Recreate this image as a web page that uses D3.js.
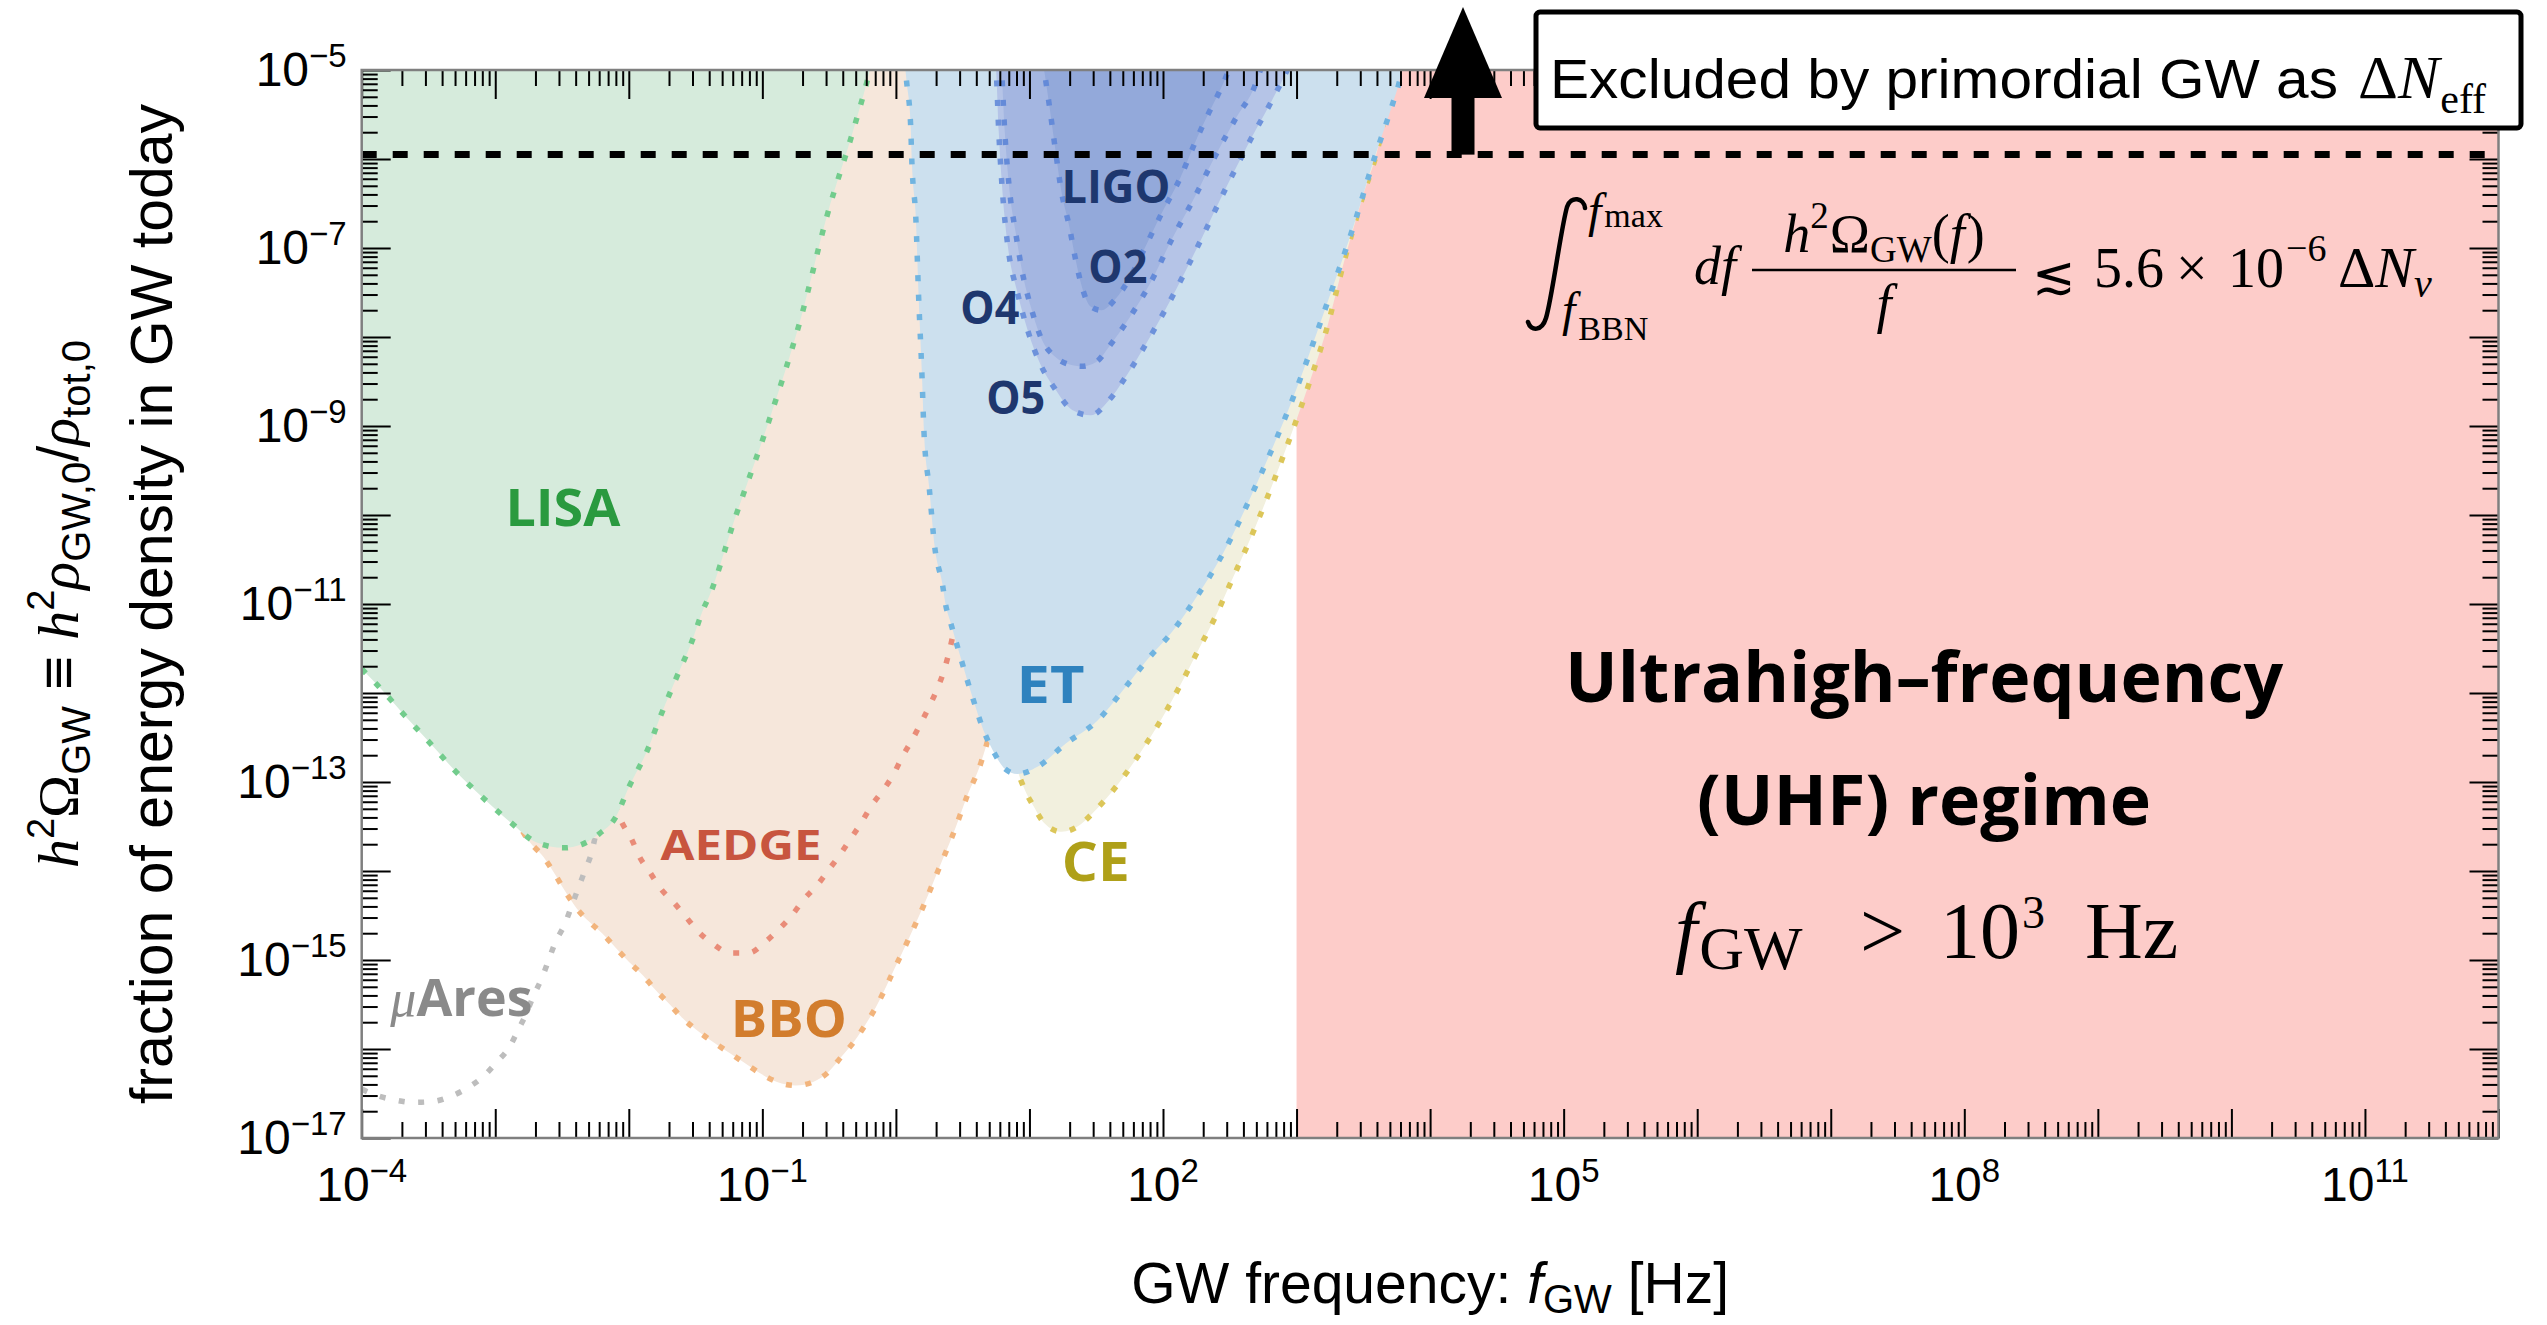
<!DOCTYPE html>
<html>
<head>
<meta charset="utf-8">
<title>GW detectors and the UHF regime</title>
<script src="https://cdn.jsdelivr.net/npm/d3@7/dist/d3.min.js"></script>
<style>
  body { margin: 0; background: #fff; }
  svg { display: block; }
  .sans { font-family: "Liberation Sans", Arial, sans-serif; }
  .serif { font-family: "Liberation Serif", "Times New Roman", serif; }
  .det { font-family: "Open Sans", sans-serif; font-weight: 700; }
</style>
</head>
<body>
<svg id="chart"></svg>
<script>
var width = 2547;
var height = 1325;
var margin = { top: 70, right: 48.5, bottom: 187, left: 361.7 };

// sensitivity curves: log10(f / Hz) and log10(h^2 Omega_GW)
var lisaLogF = [-4.0, -3.87, -3.68, -3.49, -3.31, -3.09, -2.88, -2.69, -2.49, -2.35, -2.22, -2.10, -2.00, -1.86, -1.76, -1.65, -1.53, -1.44, -1.40, -1.21, -0.95, -0.71, -0.52, -0.31, -0.20, -0.18];
var lisaLogOmega = [-11.73, -11.93, -12.25, -12.56, -12.86, -13.18, -13.46, -13.68, -13.74, -13.70, -13.58, -13.40, -13.06, -12.64, -12.25, -11.85, -11.43, -11.05, -10.92, -10.06, -8.94, -7.78, -6.66, -5.63, -5.03, -4.9];

var bboLogF = [-3.6, -3.2, -2.75, -2.64, -2.56, -2.48, -2.39, -2.29, -2.20, -2.10, -2.00, -1.89, -1.81, -1.70, -1.60, -1.49, -1.38, -1.26, -1.14, -1.02, -0.89, -0.75, -0.62, -0.50, -0.41, -0.31, -0.23, -0.15, -0.07, -0.03, 0.09, 0.21, 0.32, 0.43, 0.53, 0.64, 0.70, 0.80, 1.0, 1.3];
var bboLogOmega = [-10.5, -12.0, -13.66, -13.84, -14.02, -14.22, -14.42, -14.58, -14.70, -14.86, -15.02, -15.18, -15.32, -15.49, -15.65, -15.79, -15.91, -16.03, -16.15, -16.27, -16.37, -16.41, -16.37, -16.25, -16.09, -15.91, -15.73, -15.53, -15.29, -15.16, -14.78, -14.38, -13.98, -13.58, -13.17, -12.77, -12.45, -11.5, -9.0, -4.9];

var aedgeLogF = [-2.30, -2.05, -1.98, -1.92, -1.84, -1.76, -1.66, -1.57, -1.48, -1.37, -1.24, -1.10, -0.98, -0.88, -0.78, -0.69, -0.59, -0.50, -0.42, -0.34, -0.26, -0.18, -0.10, -0.02, 0.05, 0.12, 0.19, 0.25, 0.31, 0.36, 0.40, 0.43, 0.50, 0.65];
var aedgeLogOmega = [-12.2, -13.46, -13.64, -13.84, -14.02, -14.20, -14.36, -14.52, -14.68, -14.82, -14.92, -14.92, -14.80, -14.66, -14.50, -14.32, -14.16, -13.98, -13.82, -13.64, -13.46, -13.26, -13.10, -12.92, -12.71, -12.53, -12.33, -12.15, -11.95, -11.75, -11.53, -11.33, -10.8, -9.5];

var muaresLogF = [-4.0, -3.91, -3.76, -3.61, -3.47, -3.33, -3.20, -3.09, -2.99, -2.89, -2.83, -2.77, -2.71, -2.65, -2.60, -2.55, -2.48, -2.43, -2.38, -2.33, -2.28, -2.20, -2.12];
var muaresLogOmega = [-16.45, -16.51, -16.57, -16.60, -16.59, -16.53, -16.43, -16.31, -16.15, -15.97, -15.79, -15.61, -15.39, -15.20, -15.00, -14.80, -14.60, -14.40, -14.20, -14.00, -13.80, -13.2, -12.6];

var etLogF = [0.065, 0.08, 0.11, 0.12, 0.15, 0.17, 0.195, 0.21, 0.25, 0.29, 0.35, 0.37, 0.41, 0.49, 0.57, 0.67, 0.735, 0.815, 0.91, 1.06, 1.27, 1.51, 1.70, 1.88, 2.07, 2.23, 2.45, 2.71, 2.98, 3.22, 3.44, 3.57, 3.73, 3.77, 3.80];
var etLogOmega = [-4.9, -5.13, -5.61, -6.05, -6.69, -7.54, -8.42, -9.06, -9.70, -10.35, -10.79, -10.99, -11.21, -11.63, -12.03, -12.47, -12.67, -12.85, -12.91, -12.83, -12.57, -12.31, -11.97, -11.63, -11.31, -10.97, -10.43, -9.62, -8.66, -7.66, -6.69, -6.05, -5.33, -5.13, -4.9];

var ceLogF = [0.5, 0.7, 0.90, 0.96, 1.03, 1.11, 1.24, 1.38, 1.48, 1.67, 1.83, 1.99, 2.13, 2.26, 2.39, 2.51, 2.63, 2.90, 3.09, 3.22, 3.36, 3.49, 3.62, 3.72];
var ceLogOmega = [-4.9, -10.0, -12.8, -13.07, -13.27, -13.46, -13.56, -13.48, -13.34, -13.01, -12.67, -12.29, -11.91, -11.53, -11.15, -10.75, -10.35, -9.34, -8.54, -7.94, -7.13, -6.45, -5.81, -5.0];

var o5LogF = [0.74, 0.75, 0.77, 0.80, 0.84, 0.91, 0.99, 1.08, 1.19, 1.32, 1.46, 1.59, 1.75, 1.91, 2.10, 2.29, 2.47, 2.66, 2.82, 2.93, 2.96];
var o5LogOmega = [-4.9, -5.0, -5.69, -6.41, -7.0, -7.50, -7.94, -8.30, -8.58, -8.82, -8.88, -8.72, -8.38, -7.98, -7.46, -6.89, -6.33, -5.77, -5.33, -5.0, -4.9];

var o4LogF = [0.78, 0.79, 0.815, 0.855, 0.895, 0.945, 1.01, 1.09, 1.19, 1.30, 1.39, 1.50, 1.60, 1.75, 1.91, 2.07, 2.23, 2.39, 2.55, 2.69, 2.73, 2.76];
var o4LogOmega = [-4.9, -5.0, -5.69, -6.41, -6.81, -7.26, -7.66, -8.02, -8.22, -8.31, -8.33, -8.28, -8.10, -7.78, -7.38, -6.89, -6.45, -5.97, -5.53, -5.17, -5.0, -4.9];

var o2LogF = [1.10, 1.11, 1.15, 1.19, 1.24, 1.30, 1.34, 1.39, 1.46, 1.54, 1.64, 1.75, 1.86, 1.99, 2.13, 2.23, 2.34, 2.42, 2.49, 2.51];
var o2LogOmega = [-4.9, -5.0, -5.41, -5.85, -6.37, -6.77, -7.09, -7.42, -7.66, -7.70, -7.58, -7.34, -7.01, -6.61, -6.21, -5.85, -5.49, -5.25, -5.0, -4.9];

var neffBound = 1.12e-6;   // dashed Delta N_eff line
var uhfStart = 1e3;        // UHF band starts at 10^3 Hz
var xLabelExps = [-4, -1, 2, 5, 8, 11];
var yLabelExps = [-17, -15, -13, -11, -9, -7, -5];

var svg = d3.select("#chart")
    .attr("width", width)
    .attr("height", height);

var x = d3.scaleLog().domain([1e-4, 1e12]).range([margin.left, width - margin.right]);
var y = d3.scaleLog().domain([1e-17, 1e-5]).range([height - margin.bottom, margin.top]);
var x0 = x.range()[0], x1 = x.range()[1], yTop = y.range()[1], yBot = y.range()[0];

svg.append("defs").append("clipPath").attr("id", "clip")
    .append("rect")
    .attr("x", x0).attr("y", yTop)
    .attr("width", x1 - x0).attr("height", yBot - yTop);

var plot = svg.append("g").attr("clip-path", "url(#clip)");

function toPoints(logF, logOmega) {
    return logF.map(function (v, i) {
        return { f: Math.pow(10, v), omega: Math.pow(10, logOmega[i]) };
    });
}

var area = d3.area()
    .curve(d3.curveMonotoneX)
    .x(function (d) { return x(d.f); })
    .y0(yTop - 20)
    .y1(function (d) { return y(d.omega); });

var line = d3.line()
    .curve(d3.curveMonotoneX)
    .x(function (d) { return x(d.f); })
    .y(function (d) { return y(d.omega); });

// UHF band
plot.append("rect")
    .attr("x", x(uhfStart)).attr("y", yTop)
    .attr("width", x1 - x(uhfStart)).attr("height", yBot - yTop)
    .attr("fill", "#fdccc9");

var layers = [
    { pts: toPoints(bboLogF, bboLogOmega), fill: "#f6e7db", stroke: "#f2b47c" },
    { pts: toPoints(muaresLogF, muaresLogOmega), fill: null, stroke: "#bdbdbd" },
    { pts: toPoints(aedgeLogF, aedgeLogOmega), fill: null, stroke: "#e98c78" },
    { pts: toPoints(lisaLogF, lisaLogOmega), fill: "#d6ebdc", stroke: "#72cc8c" },
    { pts: toPoints(ceLogF, ceLogOmega), fill: "#f2f0de", stroke: "#dcc659" },
    { pts: toPoints(etLogF, etLogOmega), fill: "#cce0ee", stroke: "#70b4e0" },
    { pts: toPoints(o5LogF, o5LogOmega), fill: "#b5c4e7", stroke: "#6d92db" },
    { pts: toPoints(o4LogF, o4LogOmega), fill: "#a4b6e1", stroke: "#648ad8" },
    { pts: toPoints(o2LogF, o2LogOmega), fill: "#93a9da", stroke: "#648ad8" }
];

layers.forEach(function (l) {
    if (l.fill) {
        plot.append("path").datum(l.pts).attr("d", area).attr("fill", l.fill);
    }
    plot.append("path").datum(l.pts).attr("d", line)
        .attr("fill", "none")
        .attr("stroke", l.stroke)
        .attr("stroke-width", 5.5)
        .attr("stroke-dasharray", "6,13.5");
});

// Delta N_eff bound
plot.append("line")
    .attr("x1", x0).attr("x2", x1)
    .attr("y1", y(neffBound)).attr("y2", y(neffBound))
    .attr("stroke", "#000")
    .attr("stroke-width", 7)
    .attr("stroke-dasharray", "15,16");

// ---- axes: mirrored inward ticks on all four sides
function decades(a, b) {
    return d3.range(a, b + 1).map(function (e) { return Math.pow(10, e); });
}
function minors(a, b) {
    var out = [];
    d3.range(a, b).forEach(function (e) {
        d3.range(2, 10).forEach(function (k) { out.push(k * Math.pow(10, e)); });
    });
    return out;
}

var axes = svg.append("g");
function addAxis(axisFn, scale, values, size, transform) {
    axes.append("g")
        .attr("transform", transform)
        .call(axisFn(scale).tickValues(values).tickSizeInner(-size).tickSizeOuter(0).tickFormat(""))
        .call(function (g) {
            g.select(".domain").remove();
            g.selectAll("text").remove();
            g.selectAll("line").attr("stroke", "#000").attr("stroke-width", 2);
        });
}

addAxis(d3.axisBottom, x, decades(-4, 12), 29, "translate(0," + yBot + ")");
addAxis(d3.axisBottom, x, minors(-4, 12), 16, "translate(0," + yBot + ")");
addAxis(d3.axisTop, x, decades(-4, 12), 29, "translate(0," + yTop + ")");
addAxis(d3.axisTop, x, minors(-4, 12), 16, "translate(0," + yTop + ")");
addAxis(d3.axisLeft, y, decades(-17, -5), 29, "translate(" + x0 + ",0)");
addAxis(d3.axisLeft, y, minors(-17, -5), 16, "translate(" + x0 + ",0)");
addAxis(d3.axisRight, y, decades(-17, -5), 29, "translate(" + x1 + ",0)");
addAxis(d3.axisRight, y, minors(-17, -5), 16, "translate(" + x1 + ",0)");

axes.append("rect")
    .attr("x", x0).attr("y", yTop)
    .attr("width", x1 - x0).attr("height", yBot - yTop)
    .attr("fill", "none")
    .attr("stroke", "#7f7f7f")
    .attr("stroke-width", 2.5);

function expText(e) { return e < 0 ? "\u2212" + (-e) : String(e); }

xLabelExps.forEach(function (e) {
    var t = axes.append("text").attr("class", "sans")
        .attr("x", x(Math.pow(10, e))).attr("y", yBot + 63)
        .attr("text-anchor", "middle").attr("font-size", 48);
    t.append("tspan").text("10");
    t.append("tspan").attr("dy", -19).attr("font-size", 33).text(expText(e));
});

yLabelExps.forEach(function (e) {
    var t = axes.append("text").attr("class", "sans")
        .attr("x", x0 - 15).attr("y", y(Math.pow(10, e)) + 16)
        .attr("text-anchor", "end").attr("font-size", 48);
    t.append("tspan").text("10");
    t.append("tspan").attr("dy", -19).attr("font-size", 33).text(expText(e));
});

// a run of pieces sharing one baseline, each with its own shift / size / style
function richText(parent, attrs, parts) {
    var t = parent.append("text");
    Object.keys(attrs).forEach(function (k) { t.attr(k, attrs[k]); });
    var prev = 0;
    parts.forEach(function (p) {
        var s = t.append("tspan").text(p.t).attr("dy", (p.shift || 0) - prev);
        prev = p.shift || 0;
        if (p.dx) s.attr("dx", p.dx);
        if (p.size) s.attr("font-size", p.size);
        if (p.italic) s.attr("font-style", "italic");
        if (p.serif) s.attr("font-family", "Liberation Serif, serif");
    });
    return t;
}

// axis titles
richText(svg, { "class": "sans", x: (x0 + x1) / 2, y: 1303, "text-anchor": "middle", "font-size": 57 }, [
    { t: "GW frequency: " },
    { t: "f", italic: true },
    { t: "GW", shift: 10, size: 40 },
    { t: " [Hz]" }
]);

svg.append("text").attr("class", "sans")
    .attr("transform", "translate(172," + (yTop + yBot) / 2 + ") rotate(-90)")
    .attr("text-anchor", "middle").attr("font-size", 59)
    .text("fraction of energy density in GW today");

richText(svg, { "class": "sans", transform: "translate(78," + (yTop + yBot) / 2 + ") rotate(-90)", "text-anchor": "middle", "font-size": 58 }, [
    { t: "h", italic: true, serif: true },
    { t: "2", shift: -24, size: 38 },
    { t: "\u03A9", serif: true },
    { t: "GW", shift: 12, size: 40 },
    { t: " \u2261 " },
    { t: "h", italic: true, serif: true },
    { t: "2", shift: -24, size: 38 },
    { t: "\u03C1", italic: true, serif: true },
    { t: "GW,0", shift: 12, size: 40 },
    { t: "/" },
    { t: "\u03C1", italic: true, serif: true },
    { t: "tot,0", shift: 12, size: 40 }
]);

// detector labels
var labelSpecs = [
    { text: "LISA", f: 3.21e-3, o: 7.5e-11, color: "#2a9a3f", size: 52, len: 115 },
    { text: "AEDGE", f: 0.0693, o: 1.33e-14, color: "#c8553f", size: 42, len: 161 },
    { text: "BBO", f: 0.158, o: 1.36e-16, color: "#d27d2d", size: 52, len: 116 },
    { text: "ET", f: 14.4, o: 7.76e-13, color: "#2e82be", size: 52, len: 68 },
    { text: "CE", f: 31.4, o: 7.76e-15, color: "#afa019", size: 53, len: 68 },
    { text: "LIGO", f: 44.4, o: 3.2e-7, color: "#1e376e", size: 47, len: 109 },
    { text: "O2", f: 45.9, o: 4.05e-8, color: "#1e376e", size: 47, len: 59 },
    { text: "O4", f: 5.05, o: 1.4e-8, color: "#1e376e", size: 47, len: 59 },
    { text: "O5", f: 7.9, o: 1.36e-9, color: "#1e376e", size: 47, len: 59 }
];

var labels = svg.append("g");
labelSpecs.forEach(function (s) {
    labels.append("text").attr("class", "det")
        .attr("x", x(s.f)).attr("y", y(s.o))
        .attr("text-anchor", "middle")
        .attr("font-size", s.size)
        .attr("fill", s.color)
        .attr("textLength", s.len)
        .attr("lengthAdjust", "spacingAndGlyphs")
        .text(s.text);
});

var mu = labels.append("text").attr("class", "det")
    .attr("x", x(5.58e-4)).attr("y", y(2.34e-16))
    .attr("text-anchor", "middle").attr("font-size", 52).attr("fill", "#8a8a8a");
mu.append("tspan").attr("font-family", "Liberation Serif, serif").attr("font-style", "italic").attr("font-weight", 400).text("\u03BC");
mu.append("tspan").text("Ares");

// UHF annotation
var ux = x(5e7);
labels.append("text").attr("class", "det")
    .attr("x", ux).attr("y", 702).attr("text-anchor", "middle")
    .attr("font-size", 70).attr("textLength", 718).attr("lengthAdjust", "spacingAndGlyphs")
    .text("Ultrahigh\u2013frequency");
labels.append("text").attr("class", "det")
    .attr("x", ux).attr("y", 825).attr("text-anchor", "middle")
    .attr("font-size", 70).attr("textLength", 454).attr("lengthAdjust", "spacingAndGlyphs")
    .text("(UHF) regime");

var math = svg.append("g").attr("class", "serif").attr("fill", "#000");
function mrun(px, py, size, parts, anchor) {
    return richText(math, { x: px, y: py, "font-size": size, "text-anchor": anchor || "start" }, parts);
}

// f_GW > 10^3 Hz
mrun(1675, 958, 80, [{ t: "f", italic: true }, { t: "GW", shift: 11, size: 62, dx: 2 }]);
mrun(1860, 958, 80, [{ t: ">" }]);
mrun(1940, 958, 80, [{ t: "10" }, { t: "3", shift: -30, size: 46, dx: 2 }]);
mrun(2085, 958, 80, [{ t: "Hz" }]);

// integral constraint
math.append("path")
    .attr("d", "M1585,208 C1584,198 1571,195 1567,207 C1561,228 1552,298 1546,318 C1542,331 1531,332 1528,322")
    .attr("fill", "none").attr("stroke", "#000").attr("stroke-width", 4.5).attr("stroke-linecap", "round");
mrun(1588, 227, 48, [{ t: "f", italic: true }, { t: "max", size: 34, dx: 3 }]);
mrun(1562, 326, 48, [{ t: "f", italic: true }, { t: "BBN", shift: 14, size: 34, dx: 3 }]);
mrun(1694, 284, 54, [{ t: "df", italic: true }]);
mrun(1884, 252, 54, [
    { t: "h", italic: true },
    { t: "2", shift: -24, size: 37 },
    { t: "\u03A9", dx: 1 },
    { t: "GW", shift: 10, size: 37 },
    { t: "(" },
    { t: "f", italic: true },
    { t: ")", dx: 2 }
], "middle");
math.append("line")
    .attr("x1", 1752).attr("x2", 2016).attr("y1", 270).attr("y2", 270)
    .attr("stroke", "#000").attr("stroke-width", 2.5);
mrun(1884, 322, 54, [{ t: "f", italic: true }], "middle");
mrun(2032, 293, 52, [{ t: "\u2272" }]).attr("font-family", "DejaVu Serif, serif");
mrun(2094, 287, 56, [{ t: "5.6" }]);
mrun(2176, 287, 56, [{ t: "\u00D7" }]);
mrun(2228, 287, 56, [{ t: "10" }, { t: "\u22126", shift: -26, size: 38, dx: 2 }]);
mrun(2338, 287, 58, [{ t: "\u0394" }, { t: "N", italic: true }, { t: "\u03BD", shift: 10, size: 40, italic: true }]);

// arrow pointing to the excluded region
var ax = 1463;
svg.append("path")
    .attr("d", "M" + ax + ",7 L" + (ax + 39) + ",98 L" + (ax - 39) + ",98 Z")
    .attr("fill", "#000");
svg.append("rect")
    .attr("x", ax - 11.5).attr("y", 96).attr("width", 23).attr("height", y(neffBound) - 96)
    .attr("fill", "#000");

// excluded-by-Delta N_eff box
svg.append("rect")
    .attr("x", 1536).attr("y", 12).attr("width", 985).attr("height", 116).attr("rx", 4)
    .attr("fill", "#fff").attr("stroke", "#000").attr("stroke-width", 5);
svg.append("text").attr("class", "sans")
    .attr("x", 1550).attr("y", 98).attr("font-size", 56)
    .attr("textLength", 788).attr("lengthAdjust", "spacingAndGlyphs")
    .text("Excluded by primordial GW as");
richText(svg, { "class": "serif", x: 2358, y: 98, "font-size": 62 }, [
    { t: "\u0394" },
    { t: "N", italic: true },
    { t: "eff", shift: 15, size: 42, dx: 1 }
]);
</script>
</body>
</html>
